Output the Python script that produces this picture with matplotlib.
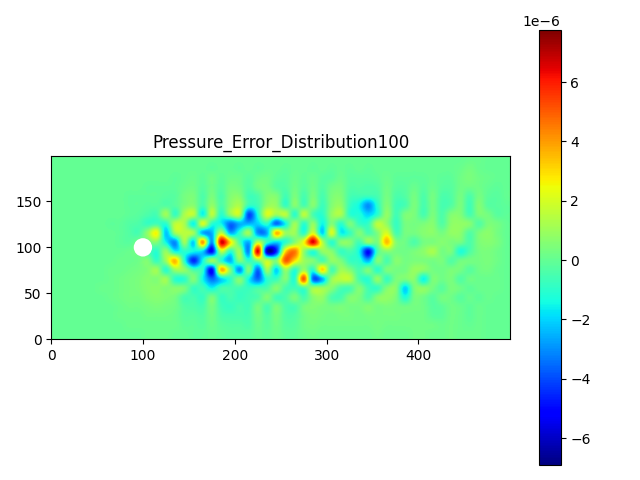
import numpy as np
import matplotlib
matplotlib.use('Agg')
import matplotlib.pyplot as plt
from matplotlib.patches import Circle

# pressure error, in units of 1e-6
# one row per 10 units of y (top row first), one value per 10 units of x
error_rows = [
    [0,0,0,0,0,0,0,0,0,0,  0,0,0,0,0,0,0,0,0,0,  0,0,0,0,0,0,0,0,0,0,  0,0,0,0,0,0,0,0,0,0,  0,0,0,0,0,.1,.1,0,0,0],
    [0,0,0,0,0,0,0,0,0,0,  0,0,0,0,0,0,0,-.1,0,0,  -.1,0,-.1,0,0,-.1,0,0,-.1,0,  -.1,0,-.1,0,-.1,0,0,0,0,0,  0,0,0,0,.1,.3,.1,0,0,0],
    [0,0,0,0,0,0,0,0,0,0,  0,0,0,-.1,0,.1,-.1,.2,-.1,.1,  .1,-.2,.1,.2,-.1,-.2,.1,-.1,.1,-.2,  -.2,.1,-.2,-.2,-.2,-.1,.1,-.1,-.1,-.1,  -.1,0,-.1,-.1,.2,.4,.2,.1,0,0],
    [0,0,0,0,0,0,0,0,0,0,  -.1,-.1,-.1,-.1,.1,.2,-.2,.2,-.2,.3,  .2,-.3,.2,.3,-.2,-.3,.2,-.2,.2,-.3,  .2,.3,-.3,-.3,-.4,-.3,.2,-.2,-.2,.1,  -.2,.1,-.2,-.2,.2,.2,.2,0,-.1,0],
    [0,0,0,0,0,0,0,0,-.1,-.1,  -.1,-.1,-.2,-.2,.3,.4,-.4,.4,-.4,.5,  .6,-.6,-.4,.5,.5,-.6,.4,-.5,.4,-.5,  .4,.5,-.5,-.6,-.7,-.5,.3,-.4,-.3,.3,  -.4,.3,-.4,-.3,.3,-.4,.3,-.1,-.2,0],
    [0,0,0,0,0,0,0,0,-.1,-.1,  -.2,-.2,-.3,-.2,.4,.6,-.5,.8,-.4,.7,  1.2,-.8,-.6,.8,.8,-.8,.6,-.5,.6,-.7,  .5,.8,-.8,-1.5,-3,-1,.5,-.6,-.5,.4,  -.5,.3,-.5,-.3,.4,-.6,.5,-.2,-.2,-.1],
    [0,0,0,0,0,0,0,0,-.1,-.2,  -.4,-.5,1,-.8,1.2,1.5,-1.5,1.5,-1,.8,  1.5,-4,-1.2,2,1,1.5,-1,1.5,-.5,-1,  .8,1.2,-1,-1.2,-2,-1,.8,-.6,.4,.4,  -.5,.4,-.4,.5,.5,-.5,.4,.3,-.2,-.1],
    [0,0,0,0,0,0,-.1,-.1,-.3,-.4,  -.8,-.6,-1,1.5,1.2,-1.5,2,-1,-1.5,-3.5,  -2.5,-2.5,-2,-1,-3.5,-1.5,1,-1,.8,-1.5,  .5,-1,.4,-.8,-.8,1.5,.8,-.8,.3,.3,  .4,.6,-.3,.7,.8,.6,-.3,.4,.3,0],
    [0,0,0,0,0,0,0,-.1,-.3,-.5,  .8,2.5,-2.2,1,1.5,1,-2.5,-2.5,1.5,-2.5,  -1,1,-3,-2.5,3.5,1,1,-1,2,-2,  2,-1.5,-.8,.5,-.5,.5,2,-.5,.3,.3,  .6,.7,.3,.8,.7,-.3,.4,.7,.3,0],
    [0,0,0,0,0,0,0,-.1,-.2,.2,  .2,.5,-1.5,-3,1,-2,4,-3,6.5,3,  -.5,-2.5,1.5,-1,-2,-1,.6,2.5,6.5,1.5,  -1,.6,.6,-.6,.8,.4,3.5,.6,.2,-.4,  .3,.4,.6,.4,.3,-.4,.4,.6,.4,0],
    [0,0,0,0,0,0,0,0,.1,.2,  -.3,-1,.8,-1.5,-1,-1.5,-2,-5,1.5,-1,  1,-3,6.5,-6,-4.5,3,4.5,.8,-1,.8,  .6,-.8,-.5,-1.5,-5,-.5,.6,.3,.2,.4,  .7,1.2,.3,.4,-1.2,-.4,.3,.4,.2,0],
    [0,0,0,0,0,0,0,.1,.1,.2,  .5,-.8,1,3.5,-1,-4.5,-1.5,1,-1,-2.5,  .5,-1,.5,1.5,.5,5,3,1,.5,-.5,  .8,.4,-.8,-1,-2.5,.5,-.5,.6,.3,.4,  .4,.3,.4,-.3,.2,.3,.3,.4,.2,0],
    [0,0,0,0,0,0,.1,.1,.2,.3,  .5,1,-1,1,.8,-.6,-1,-5,3.5,.5,  -3,.5,-3.5,1,-2,1,-1,1,-1,3,  -.5,1,.5,-.5,.4,-1,.4,.3,.3,.9,  .7,.3,.2,.4,.3,-.2,.2,.3,.1,0],
    [0,0,0,0,0,0,.1,.2,.3,.4,  .6,.5,1,-1,-1,.5,-1.5,-3.5,-2,-1,  .5,-1.5,-3.5,-1,-.8,.5,-1,5,-3.5,-2.5,  .8,1.5,1.5,-.5,-1,.8,-.8,.4,.4,.6,  -1.5,.4,.2,.4,-.3,.2,.1,.1,.1,0],
    [0,0,0,0,0,.1,.1,.2,.3,.4,  .6,.7,.5,.6,.4,-.8,-.6,-1.5,-.5,-.5,  -.6,-.8,-.5,-.4,.6,-.5,-.6,-.5,1,1,  .6,-.4,-.5,.5,-.6,-.8,.5,.6,-2,.4,  .7,.3,-.2,.4,.2,-.1,.1,.1,.1,0],
    [0,0,0,0,0,0,.1,.2,.3,.3,  .5,.6,.5,.3,-.5,-.5,-.8,.4,-.8,-.5,  -.8,-.6,-.4,.5,-.6,-.4,.4,-.5,.6,.8,  -.4,-.5,.5,.4,-.4,.6,.8,.4,-1.2,.3,  .2,-.2,.3,.2,-.2,.1,-.1,.1,0,0],
    [0,0,0,0,0,0,0,.1,.2,.2,  .3,.4,.3,.2,-.3,-.4,-.5,.3,-.6,-.8,  -.5,-.6,.3,-.5,.4,-.4,-.5,.3,.5,.4,  .3,.4,.3,.3,.5,.3,.4,.3,.2,.3,  .2,-.2,-.1,.2,.1,-.1,.1,0,0,0],
    [0,0,0,0,0,0,0,.1,.1,.1,  .2,.2,.2,.1,-.2,-.2,-.3,.2,-.4,-.5,  -.5,-.5,.2,-.3,.3,-.3,-.3,.2,.4,.3,  .2,.3,.3,.2,.3,.3,.3,.3,.2,.2,  .2,-.1,-.1,.2,.1,-.1,.1,0,0,0],
    [0,0,0,0,0,0,0,0,.1,.1,  .1,.1,.1,.1,-.1,-.1,-.2,.1,-.2,-.3,  -.3,-.4,.1,-.2,.2,-.2,-.2,.2,.3,.2,  .2,.2,.2,.2,.2,.3,.2,.2,.2,.2,  .2,.2,.1,.2,.1,0,.1,0,0,0],
    [0,0,0,0,0,0,0,0,0,0,  .1,.1,.1,0,0,-.1,-.1,0,-.1,-.2,  -.2,-.2,0,-.1,.1,-.1,-.1,.1,.2,.1,  .1,.1,.1,.1,.1,.2,.1,.1,.1,.2,  .2,.1,.1,.2,.1,.1,.1,0,0,0],
]
error_scale = 1e-6
color_min = -6.91e-6
color_max = 7.75e-6

# rows are typed top first, imshow is told so with origin='upper'
error = np.array(error_rows) * error_scale

fig, ax = plt.subplots()
# catrom goes through the typed values, bicubic smooths the peaks away
im = ax.imshow(error, cmap='jet', vmin=color_min, vmax=color_max, origin='upper',
               extent=[0, 500, 0, 200], interpolation='catrom')
ax.add_patch(Circle((100, 100), 10, facecolor='white', edgecolor='none', zorder=3))
ax.set_xlim(0, 500)
ax.set_ylim(0, 199.5)
ax.set_xticks([0, 100, 200, 300, 400])
ax.set_yticks([0, 50, 100, 150])
ax.set_title('Pressure_Error_Distribution100')
fig.colorbar(im, ax=ax)
fig.tight_layout()
fig.savefig('out.png', dpi=100)
